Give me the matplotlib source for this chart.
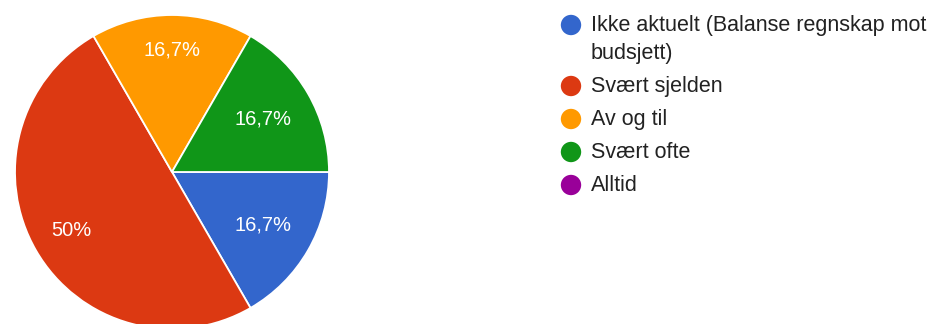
import numpy as np
import matplotlib.pyplot as plt

plt.rcParams['font.family'] = ['Liberation Sans', 'DejaVu Sans']

# svar på spørsmålet
kategorier = ["Ikke aktuelt (Balanse regnskap mot\nbudsjett)", "Svært sjelden",
              "Av og til", "Svært ofte", "Alltid"]
antall = [1, 3, 1, 1, 0]
farger = ["#3366cc", "#dc3912", "#ff9900", "#109618", "#990099"]

# avstand fra sentrum for prosentetikettene (andel av radius)
etikett_r = [0.67, 0.74, 0.78, 0.67, 0.7]

W, H = 937, 324
fig = plt.figure(figsize=(W / 100, H / 100), dpi=100)

cx, cy, R = 172, 172, 157
ax = fig.add_axes([(cx - R) / W, (H - cy - R) / H, 2 * R / W, 2 * R / H])

verdier = np.array(antall, dtype=float)
synlige = [i for i, v in enumerate(verdier) if v > 0]
wedges, _ = ax.pie(verdier[synlige], colors=[farger[i] for i in synlige],
                   startangle=0, counterclock=False, radius=1,
                   wedgeprops=dict(edgecolor='white', linewidth=1.3))
ax.set_xlim(-1, 1)
ax.set_ylim(-1, 1)
ax.axis('off')

total = verdier.sum()
for w, i in zip(wedges, synlige):
    p = verdier[i] / total * 100
    tekst = f"{p:.1f}".rstrip('0').rstrip('.').replace('.', ',') + "%"
    mid = np.deg2rad((w.theta1 + w.theta2) / 2)
    r = etikett_r[i]
    ax.text(r * np.cos(mid), r * np.sin(mid), tekst, color='white',
            fontsize=14.5, ha='center', va='center')

# tegnforklaring til høyre
lg = fig.add_axes([0, 0, 1, 1])
lg.set_xlim(0, W)
lg.set_ylim(H, 0)
lg.axis('off')
rader = [25, 86, 119, 152, 185]
for navn, farge, y in zip(kategorier, farger, rader):
    lg.scatter([571], [y], s=215, color=farge, edgecolors='none')
    for k, linje in enumerate(navn.split('\n')):
        lg.text(591, y + 6 + 28 * k, linje, fontsize=15.5, color='#222222',
                ha='left', va='baseline')

fig.savefig('out.png', dpi=100)
